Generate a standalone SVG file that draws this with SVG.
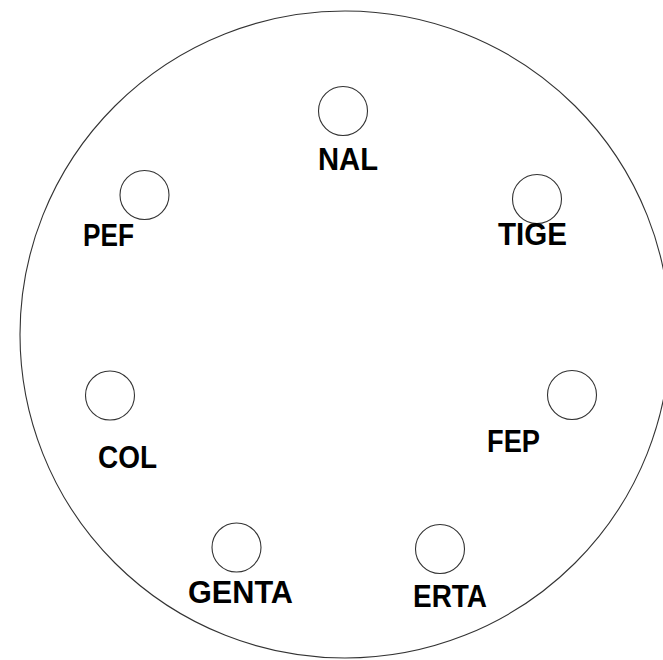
<svg xmlns="http://www.w3.org/2000/svg" width="663" height="660" viewBox="0 0 663 660">
<style>
.o{fill:none;stroke:#333;stroke-width:1.1}
.c{fill:#fff;stroke:#333;stroke-width:1.1}
.t{font-family:"Liberation Sans",Arial,sans-serif;font-weight:bold;font-size:32px;fill:#000}
</style>
<rect width="663" height="660" fill="#fff"/>
<ellipse id="outer" class="o" cx="345" cy="334.5" rx="325" ry="323.5"/>
<g id="connectors"></g>
<g id="NAL"><circle class="c" cx="343" cy="111" r="24.5"/><text class="t" x="318" y="170" textLength="60" lengthAdjust="spacingAndGlyphs">NAL</text></g>
<g id="TIGE"><circle class="c" cx="537" cy="199" r="24.5"/><text class="t" x="498" y="245" textLength="69" lengthAdjust="spacingAndGlyphs">TIGE</text></g>
<g id="FEP"><circle class="c" cx="572" cy="395" r="24.5"/><text class="t" x="487" y="452" textLength="53" lengthAdjust="spacingAndGlyphs">FEP</text></g>
<g id="ERTA"><circle class="c" cx="440" cy="549" r="24.5"/><text class="t" x="413" y="607" textLength="74" lengthAdjust="spacingAndGlyphs">ERTA</text></g>
<g id="GENTA"><circle class="c" cx="236.5" cy="547.5" r="24.5"/><text class="t" x="188" y="603" textLength="105" lengthAdjust="spacingAndGlyphs">GENTA</text></g>
<g id="COL"><circle class="c" cx="110" cy="395.5" r="24.5"/><text class="t" x="98" y="468" textLength="59" lengthAdjust="spacingAndGlyphs">COL</text></g>
<g id="PEF"><circle class="c" cx="144.5" cy="195" r="24.5"/><text class="t" x="83" y="246" textLength="51" lengthAdjust="spacingAndGlyphs">PEF</text></g>
</svg>
